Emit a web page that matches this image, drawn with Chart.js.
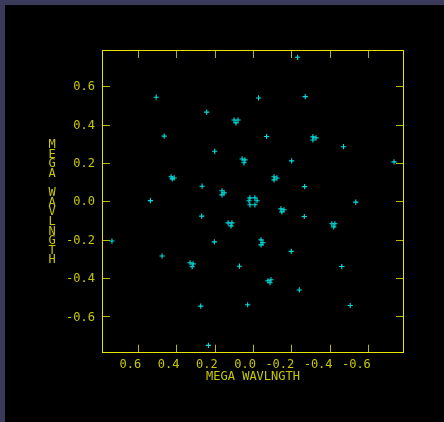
<!DOCTYPE html>
<html>
<head>
<meta charset="utf-8">
<script src="https://cdn.jsdelivr.net/npm/chart.js@4/dist/chart.umd.min.js"></script>
<style>
  html, body { margin: 0; padding: 0; background: #3b3a5a; }
  #wrap { position: absolute; left: 5px; top: 5px; width: 439px; height: 417px; background: #000; }
</style>
</head>
<body>
<div id="wrap"><canvas id="uv"></canvas></div>
<script>
// u (x) and v (y) coordinates in mega-wavelengths
const uValues = [
  -0.233, 0.506, -0.273, -0.029, 0.242, 0.464, -0.071, 0.200, -0.473, -0.202,
  -0.737, 0.266, -0.270, 0.536, 0.268, -0.537, -0.268, -0.200, 0.737, 0.202,
  0.475, 0.071, -0.242, -0.464, 0.273, 0.028, -0.508, 0.233,
  // clusters
  0.099, 0.078, 0.089,
  -0.313, -0.329, -0.313,
  0.057, 0.042, 0.047,
  0.428, 0.412, 0.422,
  0.162, 0.151, 0.162,
  -0.110, -0.125, -0.110,
  0.016, -0.010, -0.021, -0.010, 0.016, 0.021,
  0.130, 0.110, 0.115,
  -0.146, -0.162, -0.151,
  -0.412, -0.428, -0.422,
  -0.042, -0.052, -0.042,
  0.329, 0.313, 0.318,
  -0.078, -0.094, -0.089,
];
const vValues = [
  0.751, 0.543, 0.546, 0.539, 0.465, 0.340, 0.338, 0.261, 0.285, 0.211,
  0.206, 0.079, 0.077, 0.004, -0.077, -0.004, -0.079, -0.261, -0.207, -0.211,
  -0.285, -0.338, -0.462, -0.340, -0.546, -0.539, -0.543, -0.751,
  // clusters
  0.424, 0.424, 0.409,
  0.336, 0.331, 0.320,
  0.221, 0.216, 0.201,
  0.128, 0.122, 0.117,
  0.055, 0.044, 0.034,
  0.128, 0.122, 0.112,
  0.018, 0.018, 0.003, -0.018, -0.018, 0.003,
  -0.112, -0.112, -0.128,
  -0.039, -0.044, -0.055,
  -0.117, -0.117, -0.133,
  -0.201, -0.216, -0.227,
  -0.320, -0.326, -0.341,
  -0.414, -0.409, -0.424,
];
const xTicks = [0.6, 0.4, 0.2, 0.0, -0.2, -0.4, -0.6];
const yTicks = [0.6, 0.4, 0.2, 0.0, -0.2, -0.4, -0.6];
const axisTitle = "MEGA WAVLNGTH";

const yellow = "#e6e600";
const tickYellow = "#b8b800";
const labelYellow = "#c8c800";
const cyan = "#00e0e0";
const monoFont = '"DejaVu Sans Mono", monospace';

const points = uValues.map((u, i) => ({ x: u, y: vValues[i] }));

// frame, inward tick marks on all four sides, stacked y title
const framePlugin = {
  id: "frame",
  afterDraw(chart) {
    const { ctx, chartArea: a, scales } = chart;
    const x = scales.x;
    const y = scales.y;
    ctx.save();
    ctx.lineWidth = 1;
    ctx.strokeStyle = tickYellow;
    ctx.beginPath();
    xTicks.forEach((v) => {
      const px = Math.round(x.getPixelForValue(v)) + 0.5;
      ctx.moveTo(px, a.top);
      ctx.lineTo(px, a.top + 8);
      ctx.moveTo(px, a.bottom);
      ctx.lineTo(px, a.bottom - 8);
    });
    yTicks.forEach((v) => {
      const py = Math.round(y.getPixelForValue(v)) + 0.5;
      ctx.moveTo(a.left, py);
      ctx.lineTo(a.left + 8, py);
      ctx.moveTo(a.right, py);
      ctx.lineTo(a.right - 8, py);
    });
    ctx.stroke();

    ctx.strokeStyle = yellow;
    ctx.strokeRect(
      Math.round(a.left) + 0.5,
      Math.round(a.top) + 0.5,
      Math.round(a.right - a.left) - 1,
      Math.round(a.bottom - a.top) - 1,
    );

    ctx.fillStyle = labelYellow;
    ctx.font = "12px " + monoFont;
    ctx.textAlign = "center";
    ctx.textBaseline = "middle";
    [...axisTitle].forEach((ch, i) => {
      ctx.fillText(ch, 47, 140 + i * 9.6);
    });
    ctx.restore();
  },
};

new Chart(document.getElementById("uv"), {
  type: "scatter",
  data: {
    datasets: [
      {
        data: points,
        pointStyle: "cross",
        pointRadius: 2.6,
        pointBorderWidth: 1.1,
        borderColor: cyan,
        backgroundColor: cyan,
      },
    ],
  },
  options: {
    responsive: true,
    maintainAspectRatio: false,
    animation: false,
    events: [],
    layout: {
      padding: { top: 45, right: 40, bottom: 34, left: 0 },
    },
    plugins: {
      legend: { display: false },
      tooltip: { enabled: false },
    },
    scales: {
      x: {
        type: "linear",
        reverse: true,
        min: -0.789,
        max: 0.789,
        afterBuildTicks: (s) => {
          s.ticks = xTicks.map((v) => ({ value: v }));
        },
        afterFit: (s) => {
          s.height = 35.3;
        },
        grid: { display: false, drawTicks: false },
        border: { display: false },
        ticks: {
          color: labelYellow,
          font: { family: monoFont, size: 12 },
          padding: 5,
          align: "end",
          labelOffset: 3,
          maxRotation: 0,
          callback: (v) => Number(v).toFixed(1),
        },
        title: {
          display: true,
          text: axisTitle,
          color: labelYellow,
          font: { family: monoFont, size: 12 },
          padding: { top: 0, bottom: 4 },
        },
      },
      y: {
        type: "linear",
        min: -0.789,
        max: 0.789,
        afterBuildTicks: (s) => {
          s.ticks = yTicks.map((v) => ({ value: v }));
        },
        afterFit: (s) => {
          s.width = 97;
        },
        grid: { display: false, drawTicks: false },
        border: { display: false },
        ticks: {
          color: labelYellow,
          font: { family: monoFont, size: 12 },
          padding: 7,
          labelOffset: 1,
          callback: (v) => Number(v).toFixed(1),
        },
      },
    },
  },
  plugins: [framePlugin],
});
</script>
</body>
</html>
